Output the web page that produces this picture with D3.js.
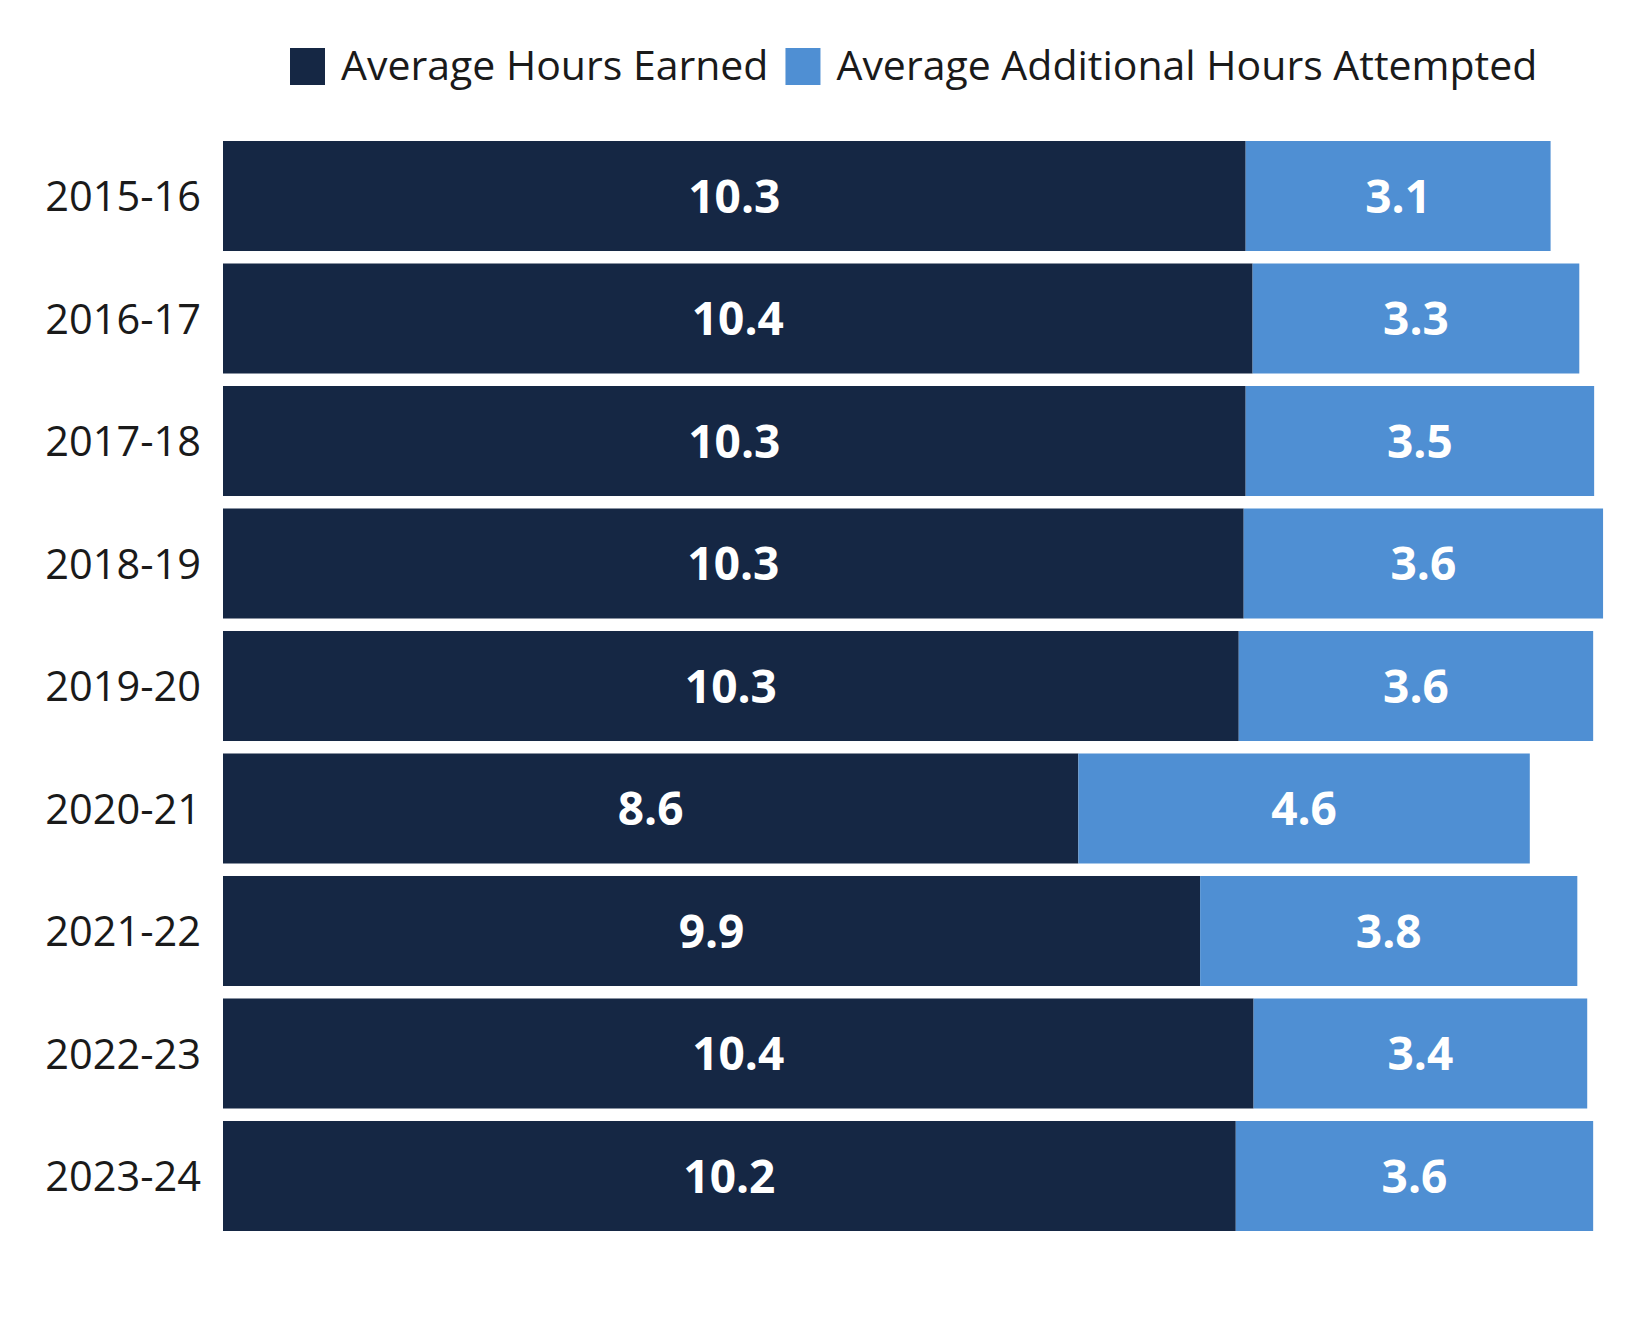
<!DOCTYPE html>
<html>
<head>
<meta charset="utf-8">
<script src="https://cdn.jsdelivr.net/npm/d3@7"></script>
<style>
  body { margin: 0; background: #fff; }
  text { font-family: "Open Sans", "Noto Sans", sans-serif; }
</style>
</head>
<body>
<div class="chart"></div>
<script>
// Data
const years = ["2015-16", "2016-17", "2017-18", "2018-19", "2019-20", "2020-21", "2021-22", "2022-23", "2023-24"];
const hoursEarned = [10.33, 10.40, 10.33, 10.31, 10.26, 8.64, 9.87, 10.41, 10.23];
const additionalAttempted = [3.08, 3.30, 3.52, 3.63, 3.58, 4.56, 3.81, 3.37, 3.61];
const seriesNames = ["Average Hours Earned", "Average Additional Hours Attempted"];
const colors = ["#152744", "#4f8fd3"];

const width = 1649;
const height = 1320;

const svg = d3.select('.chart')
    .append('svg')
    .attr('width', width)
    .attr('height', height);

// Scales
const x = d3.scaleLinear()
    .domain([0, 14])
    .range([223, 223 + 14 * 99]);

const y = d3.scaleBand()
    .domain(years)
    .range([141, 1231])
    .paddingInner(0.102)
    .paddingOuter(0);

const rows = years.map((yr, i) => ({
    year: yr,
    earned: hoursEarned[i],
    extra: additionalAttempted[i]
}));

const stack = d3.stack().keys(["earned", "extra"])(rows);

// Bars
const layer = svg.selectAll('.layer')
    .data(stack)
    .join('g')
    .attr('class', 'layer')
    .attr('fill', (d, i) => colors[i]);

layer.selectAll('rect')
    .data(d => d)
    .join('rect')
    .attr('x', d => x(d[0]))
    .attr('y', d => y(d.data.year))
    .attr('width', d => x(d[1]) - x(d[0]))
    .attr('height', y.bandwidth());

// Value labels
layer.selectAll('text')
    .data(d => d)
    .join('text')
    .attr('x', d => (x(d[0]) + x(d[1])) / 2)
    .attr('y', d => y(d.data.year) + y.bandwidth() / 2)
    .attr('dy', '0.36em')
    .attr('text-anchor', 'middle')
    .attr('fill', '#fff')
    .attr('font-weight', 'bold')
    .attr('font-size', 46)
    .text(d => (d[1] - d[0]).toFixed(1));

// Category axis
const yAxis = svg.append('g')
    .attr('transform', 'translate(223,0)')
    .call(d3.axisLeft(y).tickSize(0).tickPadding(22));

yAxis.select('.domain').remove();
yAxis.selectAll('text')
    .attr('font-size', 41.5)
    .attr('dy', '0.37em')
    .attr('fill', '#1a1a1a')
    .style('font-family', '"Open Sans", "Noto Sans", sans-serif');

// Legend
const legend = svg.append('g').attr('transform', 'translate(290,48)');
let lx = 0;
seriesNames.forEach((name, i) => {
    legend.append('rect')
        .attr('x', lx)
        .attr('y', 0)
        .attr('width', 35)
        .attr('height', 37)
        .attr('fill', colors[i]);
    const t = legend.append('text')
        .attr('x', lx + 51)
        .attr('y', 18)
        .attr('dy', '0.35em')
        .attr('font-size', 41)
        .attr('fill', '#1a1a1a')
        .text(name);
    lx += 51 + t.node().getComputedTextLength() + 17;
});
</script>
</body>
</html>
